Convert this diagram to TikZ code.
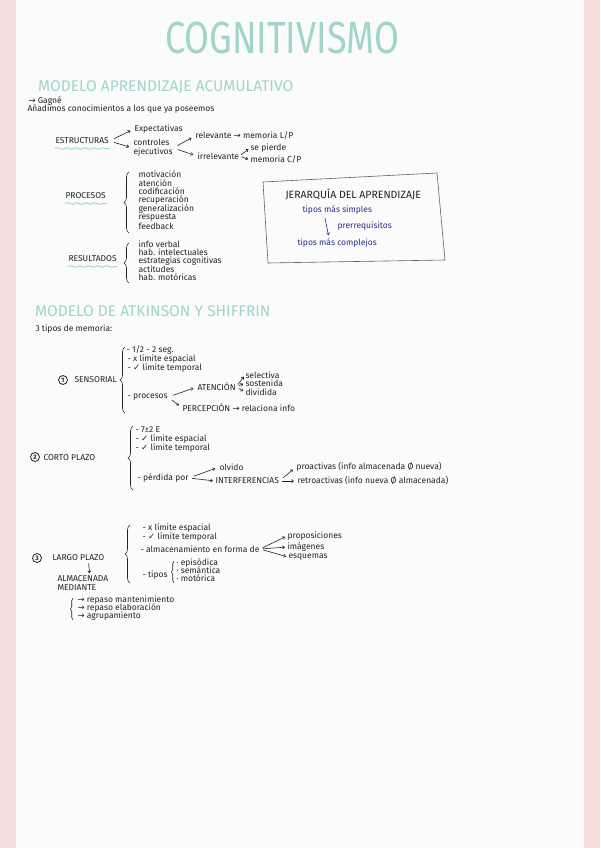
\documentclass[tikz,border=0pt]{standalone}
\usepackage{fontspec}
\setmainfont{Fira Sans}
\newfontfamily\simbolos{DejaVu Sans}
\usetikzlibrary{arrows.meta,decorations.pathreplacing,decorations.pathmorphing}
\definecolor{rosaBorde}{RGB}{244,220,221}
\definecolor{papel}{RGB}{251,251,251}
\definecolor{tealTitulo}{RGB}{160,213,203}
\definecolor{tealOnda}{RGB}{150,210,200}
\definecolor{tinta}{RGB}{35,35,35}
\definecolor{tintaAzul}{RGB}{40,45,140}
\definecolor{marcoGris}{RGB}{95,95,95}
\tikzset{
  titulo/.style={font=\fontsize{45}{45}\selectfont, text=tealTitulo, inner sep=0pt, xscale=0.8},
  encabezado/.style={font=\fontsize{15.5}{15.5}\selectfont, text=tealTitulo, anchor=west, inner sep=0pt},
  texto/.style={font=\fontsize{8.5}{8.6}\selectfont, text=tinta, anchor=west, inner sep=0.3pt},
  azul/.style={texto, text=tintaAzul},
  num/.style={draw=tinta, circle, thick, inner sep=0pt, minimum size=9pt, font=\fontsize{6.5}{6.5}\selectfont\bfseries, text=tinta},
  flecha/.style={-{Straight Barb[length=2pt,width=3pt]}, semithick, draw=tinta, shorten <=5pt, shorten >=4pt},
  llave/.style={decorate, decoration={brace, amplitude=5pt}, semithick, draw=tinta},
  ondas/.style={decorate, decoration={snake, amplitude=0.8pt, segment length=9pt}, thick, draw=tealOnda},
  marco/.style={draw=marcoGris, semithick}
}
\newcommand{\flecha}{{\simbolos →}}
\newcommand{\visto}{{\simbolos ✓}}

\begin{document}
\begin{tikzpicture}[x=1pt, y=-1pt]
  \useasboundingbox (0,0) rectangle (600,848);
  \fill[rosaBorde] (0,0) rectangle (600,848);
  \fill[papel] (16,0) rectangle (584,848);

  % titulo y modelo acumulativo
  \node[titulo] (titulo) at (282,38) {COGNITIVISMO};
  \node[encabezado] (acum) at (38,87) {MODELO APRENDIZAJE ACUMULATIVO};
  \node[texto] (gagne) at (28,101) {\flecha\ Gagné};
  \node[texto] (anadimos) at (27,109) {Añadimos conocimientos a los que ya poseemos};

  \node[texto] (estruct) at (55,141) {ESTRUCTURAS};
  \node[texto] (expect) at (134,129) {Expectativas};
  \node[texto, align=left] (control) at (133,148) {controles\\ ejecutivos};
  \node[texto] (relev) at (195,136) {relevante \flecha\ memoria L/P};
  \node[texto] (irrelev) at (197,156) {irrelevante};
  \node[texto] (pierde) at (250,148) {se pierde};
  \node[texto] (memcp) at (250,160) {memoria C/P};

  \draw[flecha] (estruct.east) -- (expect.west);
  \draw[flecha] (estruct.east) -- (control.west);
  \draw[flecha] (control.east) -- (relev.west);
  \draw[flecha] (control.east) -- (irrelev.west);
  \draw[flecha, shorten <=2pt, shorten >=2pt] (irrelev.east) -- (pierde.west);
  \draw[flecha, shorten <=2pt, shorten >=2pt] (irrelev.east) -- (memcp.west);
  \draw[ondas] ([yshift=-4pt]estruct.south west) -- ([yshift=-4pt]estruct.south east);

  \node[texto] (procesos) at (65,196) {PROCESOS};
  \draw[ondas] ([yshift=-4pt]procesos.south west) -- ([yshift=-4pt]procesos.south east);
  \draw[llave] (129,233) -- (129,172);
  \node[texto] (motiv) at (138,174) {motivación};
  \node[texto] (atenc) at (138,182.7) {atención};
  \node[texto] (codif) at (138,191.4) {codificación};
  \node[texto] (recup) at (138,200.1) {recuperación};
  \node[texto] (gener) at (138,208.8) {generalización};
  \node[texto] (resp) at (138,217.5) {respuesta};
  \node[texto] (feed) at (138,226.2) {feedback};

  \node[texto] (result) at (68,259) {RESULTADOS};
  \draw[ondas] ([yshift=-4pt]result.south west) -- ([yshift=-4pt]result.south east);
  \draw[llave] (129,283) -- (129,243);
  \node[texto] (verbal) at (138,244) {info verbal};
  \node[texto] (intelec) at (138,252.3) {hab. intelectuales};
  \node[texto] (estrat) at (138,260.6) {estrategias cognitivas};
  \node[texto] (actit) at (138,268.9) {actitudes};
  \node[texto] (motor) at (138,277.2) {hab. motóricas};

  % jerarquia
  \draw[marco] (263,182) -- (437,173) -- (445,260) -- (268,263) -- cycle;
  \node[texto, font=\fontsize{10.5}{10.5}\selectfont] (jerarq) at (285,194) {JERARQUÍA DEL APRENDIZAJE};
  \node[azul] (simples) at (302,210) {tipos más simples};
  \node[azul] (prerreq) at (337,226) {prerrequisitos};
  \node[azul] (complejos) at (297,243) {tipos más complejos};
  \draw[flecha, draw=tintaAzul, shorten <=3pt, shorten >=3pt] ([xshift=-13pt]simples.south) -- ([xshift=-8pt]complejos.north);

  % atkinson y shiffrin
  \node[encabezado] (atkinson) at (35,311) {MODELO DE ATKINSON Y SHIFFRIN};
  \node[texto] (tipos) at (35,329) {3 tipos de memoria:};

  \node[num] (n1) at (63,380) {1};
  \node[texto] (sensorial) at (74,380) {SENSORIAL};
  \draw[llave] (125,413) -- (125,347);
  \node[texto] (seg) at (126,350) {- 1/2 - 2 seg.};
  \node[texto] (sespac) at (127,359) {- x límite espacial};
  \node[texto] (stemp) at (127,368) {- \visto\ límite temporal};
  \node[texto] (sproc) at (127,397) {- procesos};
  \node[texto] (atencion) at (197,387) {ATENCIÓN};
  \node[texto] (percep) at (182,408) {PERCEPCIÓN \flecha\ relaciona info};
  \node[texto] (selectiva) at (245,375) {selectiva};
  \node[texto] (sostenida) at (245,383) {sostenida};
  \node[texto] (dividida) at (245,392) {dividida};
  \draw[flecha] (sproc.east) -- (atencion.west);
  \draw[flecha] (sproc.east) -- (percep.west);
  \draw[flecha, shorten <=3pt, shorten >=2pt] (atencion.east) -- (selectiva.west);
  \draw[flecha, shorten <=3pt, shorten >=2pt] (atencion.east) -- (sostenida.west);
  \draw[flecha, shorten <=3pt, shorten >=2pt] (atencion.east) -- (dividida.west);

  \node[num] (n2) at (35,457) {2};
  \node[texto] (corto) at (43,458) {CORTO PLAZO};
  \draw[llave] (133,490) -- (133,426);
  \node[texto] (magico) at (135,430) {- 7±2 E};
  \node[texto] (cespac) at (135,439) {- \visto\ límite espacial};
  \node[texto] (ctemp) at (135,448) {- \visto\ límite temporal};
  \node[texto] (perdida) at (137,478) {- pérdida por};
  \node[texto] (olvido) at (219,467) {olvido};
  \node[texto] (interf) at (215,481) {INTERFERENCIAS};
  \node[texto] (proact) at (296,467) {proactivas (info almacenada Ø nueva)};
  \node[texto] (retroact) at (297,481) {retroactivas (info nueva Ø almacenada)};
  \draw[flecha] (perdida.east) -- (olvido.west);
  \draw[flecha, shorten <=3pt, shorten >=2pt] (perdida.east) -- (interf.west);
  \draw[flecha] (interf.east) -- (proact.west);
  \draw[flecha, shorten <=3pt, shorten >=3pt] (interf.east) -- (retroact.west);

  \node[num] (n3) at (37,558) {3};
  \node[texto] (largo) at (52,558) {LARGO PLAZO};
  \node[texto, align=left] (almac) at (57,583) {ALMACENADA\\MEDIANTE};
  \draw[flecha, shorten <=2pt, shorten >=2pt] ([xshift=10pt]largo.south) -- ([xshift=7pt]almac.north);
  \draw[llave] (130,583) -- (130,525);
  \node[texto] (lespac) at (142,528) {- x límite espacial};
  \node[texto] (ltemp) at (142,537) {- \visto\ límite temporal};
  \node[texto] (forma) at (140,549) {- almacenamiento en forma de};
  \node[texto] (propos) at (287,536) {proposiciones};
  \node[texto] (imagenes) at (287,547) {imágenes};
  \node[texto] (esquemas) at (288,557) {esquemas};
  \draw[flecha, shorten <=3pt, shorten >=2pt] (forma.east) -- (propos.west);
  \draw[flecha, shorten <=3pt, shorten >=2pt] (forma.east) -- (imagenes.west);
  \draw[flecha, shorten <=3pt, shorten >=2pt] (forma.east) -- (esquemas.west);
  \node[texto] (ltipos) at (142,575) {- tipos};
  \draw[llave, decoration={brace, amplitude=2.5pt}] (174,583) -- (174,561);
  \node[texto] (episod) at (176,563) {· episódica};
  \node[texto] (semant) at (176,570.5) {· semántica};
  \node[texto] (motorica) at (176,578) {· motórica};

  \draw[llave, decoration={brace, amplitude=2.5pt}] (73,620) -- (73,598);
  \node[texto] (mantenim) at (77,600) {\flecha\ repaso mantenimiento};
  \node[texto] (elabor) at (77,608) {\flecha\ repaso elaboración};
  \node[texto] (agrup) at (77,616) {\flecha\ agrupamiento};
\end{tikzpicture}
\end{document}
